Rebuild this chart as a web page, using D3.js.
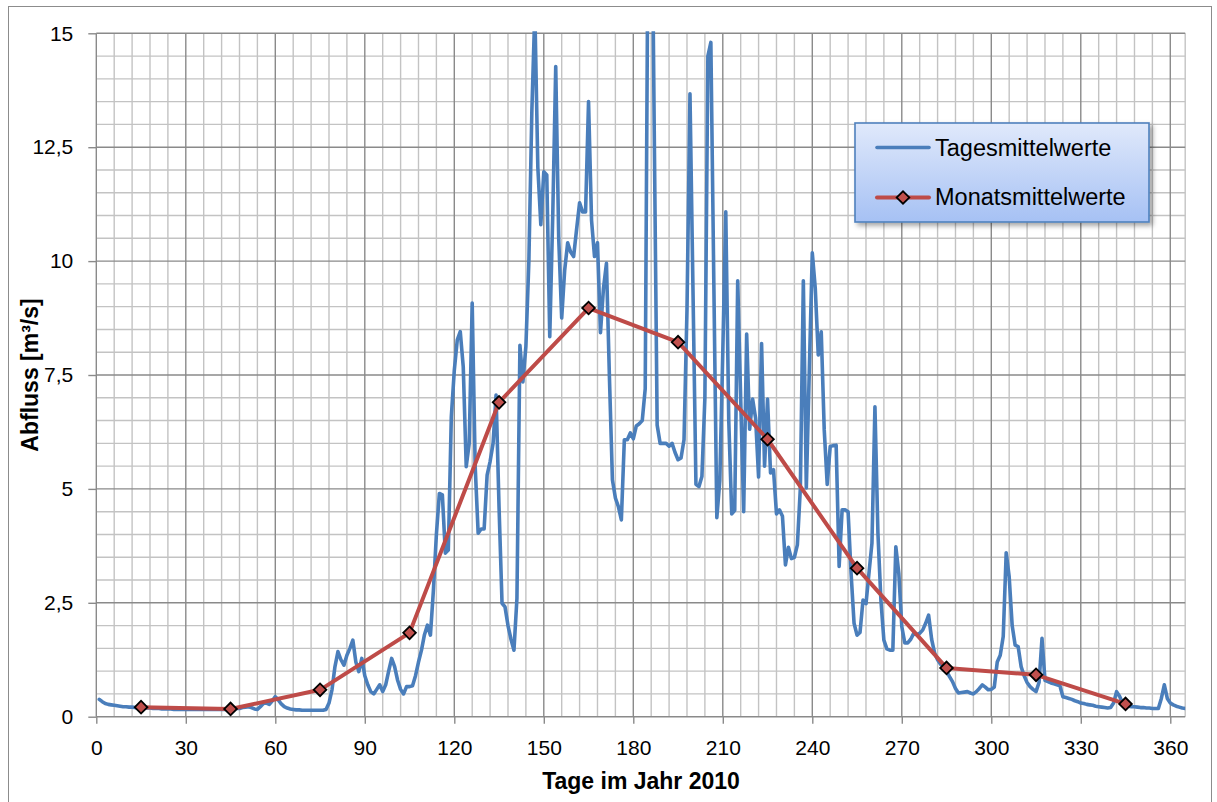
<!DOCTYPE html>
<html><head><meta charset="utf-8">
<script src="https://cdn.jsdelivr.net/npm/d3@7"></script>
<style>body{margin:0;background:#fff} svg{display:block}</style>
</head><body><svg id="chart" width="1217" height="802"></svg>
<script>
// Tagesmittelwerte: day 1 .. 365
const dailyValues = [
0.38,0.33,0.29,0.27,0.26,0.25,0.24,0.23,0.22,0.22,
0.21,0.21,0.2,0.2,0.2,0.19,0.19,0.19,0.18,0.18,
0.18,0.17,0.17,0.17,0.17,0.16,0.16,0.16,0.16,0.16,
0.16,0.16,0.16,0.16,0.16,0.16,0.16,0.16,0.16,0.16,
0.16,0.16,0.16,0.16,0.16,0.17,0.18,0.18,0.2,0.21,
0.22,0.2,0.17,0.16,0.22,0.29,0.3,0.27,0.35,0.44,
0.37,0.28,0.22,0.19,0.17,0.16,0.15,0.15,0.14,0.14,
0.14,0.14,0.14,0.14,0.14,0.14,0.16,0.3,0.59,1.1,
1.43,1.25,1.13,1.35,1.5,1.68,1.2,0.99,1.28,0.9,
0.7,0.55,0.5,0.6,0.7,0.55,0.7,1.0,1.28,1.1,
0.8,0.6,0.5,0.66,0.66,0.68,0.9,1.2,1.46,1.8,
2.01,1.79,2.78,4.0,4.9,4.87,3.59,3.66,6.58,7.6,
8.27,8.45,7.68,5.49,6.0,9.08,5.5,4.03,4.12,4.12,
5.3,5.6,6.0,7.06,4.6,2.49,2.41,2.0,1.7,1.46,
2.6,8.15,7.35,8.13,10.0,13.3,15.5,12.06,10.8,11.96,
11.89,8.34,11.0,14.27,10.5,8.75,9.8,10.4,10.2,10.1,
10.7,11.28,11.08,11.08,13.5,10.9,10.1,10.4,8.43,9.4,
9.95,7.45,5.2,4.8,4.61,4.32,6.08,6.08,6.23,6.1,
6.38,6.43,6.5,7.2,18,20,13,6.4,6.0,6.0,
6.0,5.94,6.0,5.8,5.64,5.68,6.08,8.93,13.67,9.4,
5.1,5.05,5.27,7.0,14.5,14.8,9.5,4.37,5.18,8.0,
11.08,6.5,4.45,4.53,9.57,6.97,4.5,8.4,6.31,6.97,
6.55,5.26,8.19,5.5,6.97,5.35,5.42,4.45,4.54,4.4,
3.33,3.72,3.47,3.5,3.77,5.02,9.57,5.02,7.6,10.18,
9.4,7.94,8.45,6.3,5.1,5.93,5.95,5.96,3.3,4.54,
4.54,4.5,3.15,2.05,1.79,1.85,2.56,2.48,3.15,3.81,
6.8,4.03,2.56,1.68,1.49,1.46,1.46,3.73,3.15,1.98,
1.62,1.62,1.7,1.83,1.8,1.83,1.9,2.05,2.23,1.7,
1.4,1.25,1.15,1.1,1.0,0.88,0.77,0.62,0.52,0.53,
0.54,0.55,0.52,0.5,0.55,0.62,0.7,0.65,0.59,0.6,
0.65,1.2,1.35,1.76,3.6,3.07,2.0,1.57,1.54,1.1,
0.9,0.75,0.66,0.6,0.55,0.75,1.72,0.8,0.77,0.74,
0.72,0.7,0.68,0.44,0.42,0.4,0.38,0.35,0.33,0.3,
0.29,0.27,0.26,0.25,0.23,0.22,0.21,0.2,0.19,0.2,
0.3,0.55,0.45,0.3,0.25,0.23,0.22,0.22,0.21,0.2,
0.2,0.19,0.19,0.18,0.18,0.18,0.4,0.7,0.4,0.3,
0.26,0.23,0.21,0.19,0.18
];
// Monatsmittelwerte
const monthDays = [15,45,75,105,135,165,195,225,255,285,315,345];
const monthValues = [0.21,0.17,0.59,1.84,6.9,8.97,8.22,6.09,3.26,1.07,0.92,0.28];
const xTickValues = [0,30,60,90,120,150,180,210,240,270,300,330,360];
const yTickValues = [0,2.5,5,7.5,10,12.5,15];
const seriesNames = ["Tagesmittelwerte","Monatsmittelwerte"];
const xTitle = "Tage im Jahr 2010";
const yTitle = "Abfluss [m³/s]";

const blue = "#4a7ebb", red = "#be4b48";
const svg = d3.select("#chart");
const x = d3.scaleLinear().domain([0,365]).range([96.3,1185.2]);
const y = d3.scaleLinear().domain([0,15]).range([716.7,33.3]);
const font = "'Liberation Sans', Arial, sans-serif";

// outer border
svg.append("rect").attr("x",8.5).attr("y",6.5).attr("width",1203).attr("height",806)
  .attr("fill","#fff").attr("stroke","#8c8c8c").attr("stroke-width",1);

const defs = svg.append("defs");
defs.append("clipPath").attr("id","plotclip").append("rect")
  .attr("x",x(0)).attr("y",y(15)-2).attr("width",x(365)-x(0)).attr("height",y(0)-y(15)+2);
const grad = defs.append("linearGradient").attr("id","lg").attr("x1",0).attr("y1",0).attr("x2",0).attr("y2",1);
grad.append("stop").attr("offset","0%").attr("stop-color","#e0e9fb");
grad.append("stop").attr("offset","100%").attr("stop-color","#a6c1f4");
const f = defs.append("filter").attr("id","shadow").attr("x","-10%").attr("y","-10%").attr("width","130%").attr("height","140%");
f.append("feDropShadow").attr("dx",3).attr("dy",3).attr("stdDeviation",2.5).attr("flood-color","#000").attr("flood-opacity",0.35);

// grid
const g = svg.append("g");
const minorX = d3.range(6,366,6).filter(d => d % 30 !== 0);
const majorX = d3.range(30,361,30);
const minorY = d3.range(0.5,15,0.5).filter(d => Math.abs(d/2.5 - Math.round(d/2.5)) > 1e-6);
const majorY = [2.5,5,7.5,10,12.5,15];
g.selectAll(".mnx").data(minorX).join("line")
  .attr("x1",d=>x(d)).attr("x2",d=>x(d)).attr("y1",y(15)).attr("y2",y(0))
  .attr("stroke","#c3c3c3").attr("stroke-width",1.4);
g.selectAll(".mny").data(minorY).join("line")
  .attr("x1",x(0)).attr("x2",x(365)).attr("y1",d=>y(d)).attr("y2",d=>y(d))
  .attr("stroke","#c3c3c3").attr("stroke-width",1.4);
g.append("line").attr("x1",x(365)).attr("x2",x(365)).attr("y1",y(15)).attr("y2",y(0))
  .attr("stroke","#c3c3c3").attr("stroke-width",1.4);
g.selectAll(".mjx").data(majorX).join("line")
  .attr("x1",d=>x(d)).attr("x2",d=>x(d)).attr("y1",y(15)).attr("y2",y(0))
  .attr("stroke","#8a8a8a").attr("stroke-width",1.4);
g.selectAll(".mjy").data(majorY).join("line")
  .attr("x1",x(0)).attr("x2",x(365)).attr("y1",d=>y(d)).attr("y2",d=>y(d))
  .attr("stroke","#8a8a8a").attr("stroke-width",1.4);

// axes
const fmt = d => String(d).replace(".", ",");
const ax = svg.append("g").attr("transform",`translate(0,${y(0)})`)
  .call(d3.axisBottom(x).tickValues(xTickValues).tickSize(7).tickPadding(16).tickFormat(fmt));
const ay = svg.append("g").attr("transform",`translate(${x(0)},0)`)
  .call(d3.axisLeft(y).tickValues(yTickValues).tickSize(8).tickPadding(15).tickFormat(fmt));
[ax,ay].forEach(a => {
  a.select(".domain").attr("stroke","#8a8a8a").attr("stroke-width",1.4);
  a.selectAll(".tick line").attr("stroke","#8a8a8a").attr("stroke-width",1.4);
  a.selectAll(".tick text").attr("font-family",font).attr("font-size",21).attr("fill","#000");
});
ax.select(".domain").attr("d",`M${x(0)},0H${x(365)}`);
ay.select(".domain").attr("d",`M0,${y(0)}V${y(15)}`);

// titles
svg.append("text").attr("x",641).attr("y",789).attr("text-anchor","middle")
  .attr("font-family",font).attr("font-weight","bold").attr("font-size",23).text(xTitle);
svg.append("text").attr("transform","translate(38,375) rotate(-90)").attr("text-anchor","middle")
  .attr("font-family",font).attr("font-weight","bold").attr("font-size",23).text(yTitle);

// series
const plot = svg.append("g").attr("clip-path","url(#plotclip)");
const daily = dailyValues.map((v,i) => ({d:i+1, v}));
plot.append("path").datum(daily)
  .attr("d", d3.line().x(p=>x(p.d)).y(p=>y(p.v)))
  .attr("fill","none").attr("stroke",blue).attr("stroke-width",3.6).attr("stroke-linejoin","round").attr("stroke-linecap","round");
const monthly = monthDays.map((d,i) => ({d, v:monthValues[i]}));
svg.append("path").datum(monthly)
  .attr("d", d3.line().x(p=>x(p.d)).y(p=>y(p.v)))
  .attr("fill","none").attr("stroke",red).attr("stroke-width",4).attr("stroke-linejoin","round").attr("stroke-linecap","round");
const diamond = d3.symbol().type(d3.symbolSquare).size(80);
svg.selectAll(".mk").data(monthly).join("path")
  .attr("d", diamond)
  .attr("transform", p => `translate(${x(p.d)},${y(p.v)}) rotate(45)`)
  .attr("fill","#c0504d").attr("stroke","#000").attr("stroke-width",1.8);

// legend
const lg = svg.append("g");
lg.append("rect").attr("x",855).attr("y",123).attr("width",294).attr("height",99)
  .attr("fill","url(#lg)").attr("stroke","#4f81bd").attr("stroke-width",1.6).attr("filter","url(#shadow)");
lg.append("line").attr("x1",877).attr("x2",929).attr("y1",147.5).attr("y2",147.5)
  .attr("stroke",blue).attr("stroke-width",3.6).attr("stroke-linecap","round");
lg.append("line").attr("x1",877).attr("x2",929).attr("y1",197.5).attr("y2",197.5)
  .attr("stroke",red).attr("stroke-width",4).attr("stroke-linecap","round");
lg.append("path").attr("d",diamond).attr("transform","translate(903,197.5) rotate(45)")
  .attr("fill","#c0504d").attr("stroke","#000").attr("stroke-width",1.8);
lg.selectAll(".lt").data(seriesNames).join("text")
  .attr("x",935).attr("y",(d,i)=>155.5+i*49)
  .attr("font-family",font).attr("font-size",23.5).attr("fill","#000").text(d=>d);
</script></body></html>
